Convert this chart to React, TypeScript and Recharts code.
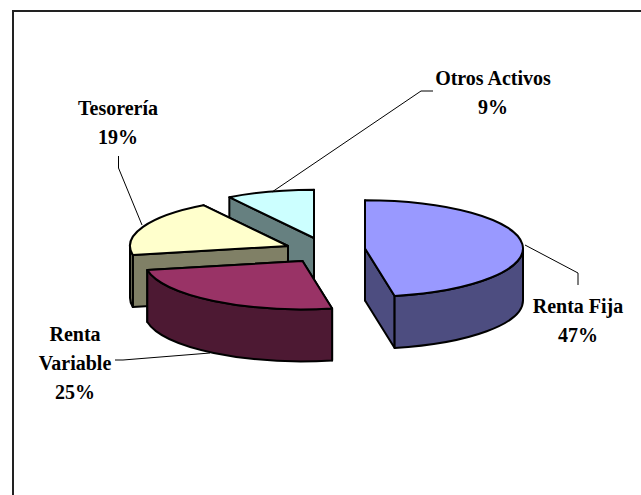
import { PieChart, Pie } from 'recharts';

// drawn back to front, so the slices run counter-clockwise from 12 o'clock
const SLICE_NAMES = ['Otros Activos', 'Tesorería', 'Renta Variable', 'Renta Fija'];
const SLICE_VALUES = [9, 19, 25, 47];

const TOP_COLORS = ['#CCFFFF', '#FFFFCC', '#993366', '#9999FF'];
const SIDE_COLORS = ['#668080', '#808066', '#4D1933', '#4D4D80'];

// how far each slice is pulled out of the pie
const EXPLODE = [
  { dx: -8, dy: -12 },
  { dx: -34, dy: -4 },
  { dx: -19.5, dy: 11 },
  { dx: 43, dy: -1.5 },
];

const LABELS = [
  { lines: ['Otros Activos', '9%'], x: 493, y: 85, leader: '272,192 421,91 433,91' },
  { lines: ['Tesorería', '19%'], x: 118, y: 115, leader: '142,225 118.5,168 118.5,156' },
  { lines: ['Renta', 'Variable', '25%'], x: 75, y: 341, leader: '210,353 123,360 115,360' },
  { lines: ['Renta Fija', '47%'], x: 578, y: 313, leader: '525,245 578,273 578,285' },
];

const SQUASH = 48 / 157;
const DEPTH = 52;

const tableData = SLICE_NAMES.map((name, i) => ({ name, value: SLICE_VALUES[i], idx: i }));

function Slice3D(props: any) {
  const { cx, cy, outerRadius: r, startAngle, endAngle, payload } = props;
  const idx = payload?.idx ?? props.idx ?? props.index;
  const ox = cx + EXPLODE[idx].dx;
  const oy = cy + EXPLODE[idx].dy;
  const ry = r * SQUASH;
  const pt = (deg: number) => {
    const rad = (deg * Math.PI) / 180;
    return [ox + r * Math.cos(rad), oy - ry * Math.sin(rad)];
  };
  const [sx, sy] = pt(startAngle);
  const [ex, ey] = pt(endAngle);
  const large = endAngle - startAngle > 180 ? 1 : 0;
  const line = { stroke: '#000', strokeWidth: 2, strokeLinejoin: 'round' as const };

  const wall = (x: number, y: number) =>
    `M${ox},${oy} L${x},${y} L${x},${y + DEPTH} L${ox},${oy + DEPTH} Z`;

  // only the front half of the rim can be seen
  const lo = Math.max(startAngle, 180);
  const hi = Math.min(endAngle, 360);
  let rim = null;
  if (hi > lo) {
    const [ax, ay] = pt(lo);
    const [bx, by] = pt(hi);
    rim = `M${ax},${ay} A${r},${ry} 0 0 0 ${bx},${by} L${bx},${by + DEPTH} A${r},${ry} 0 0 1 ${ax},${ay + DEPTH} Z`;
  }

  return (
    <g>
      <path d={wall(sx, sy)} fill={SIDE_COLORS[idx]} {...line} />
      <path d={wall(ex, ey)} fill={SIDE_COLORS[idx]} {...line} />
      {rim && <path d={rim} fill={SIDE_COLORS[idx]} {...line} />}
      <path
        d={`M${ox},${oy} L${sx},${sy} A${r},${ry} 0 ${large} 0 ${ex},${ey} Z`}
        fill={TOP_COLORS[idx]}
        {...line}
      />
    </g>
  );
}

function SliceLabel(props: any) {
  const label = LABELS[props.index];
  return (
    <g>
      <polyline points={label.leader} fill="none" stroke="#000" strokeWidth={1} />
      <text
        textAnchor="middle"
        fontFamily="'Liberation Serif', serif"
        fontWeight="bold"
        fontSize={20}
        fill="#000"
      >
        {label.lines.map((text, i) => (
          <tspan key={text} x={label.x} y={label.y + i * 29}>
            {text}
          </tspan>
        ))}
      </text>
    </g>
  );
}

export default function App() {
  return (
    <div style={{ position: 'relative', width: 641, height: 495, overflow: 'hidden', background: '#fff' }}>
      <style>{'body { margin: 0; }'}</style>
      <div
        style={{
          position: 'absolute',
          left: 12,
          top: 10,
          width: 800,
          height: 800,
          border: '2px solid #222',
        }}
      />
      <div style={{ position: 'absolute', left: 0, top: 0 }}>
        <PieChart width={641} height={495} margin={{ top: 0, right: 0, bottom: 0, left: 0 }}>
          <Pie
            data={tableData}
            dataKey="value"
            nameKey="name"
            cx={322}
            cy={250}
            innerRadius={0}
            outerRadius={158}
            startAngle={90}
            endAngle={450}
            stroke="none"
            shape={Slice3D}
            label={SliceLabel}
            labelLine={false}
            isAnimationActive={false}
          />
        </PieChart>
      </div>
    </div>
  );
}
